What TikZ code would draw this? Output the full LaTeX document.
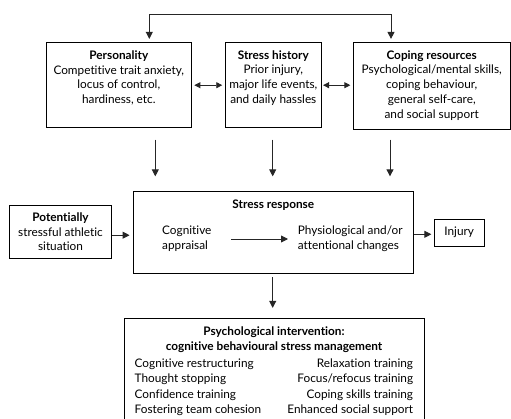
\documentclass[tikz,border=0pt]{standalone}
\usepackage{fontspec}
\setmainfont{Lato}[Ligatures={NoCommon,NoRequired}]
\usetikzlibrary{arrows.meta}
\begin{document}
\begin{tikzpicture}[x=1pt,y=-1pt,
  box/.style={draw=black,line width=0.8pt,inner sep=0pt,align=center},
  txt/.style={inner sep=0pt,align=center,font=\fontsize{11.8}{14.8}\selectfont},
  arr/.style={draw=black!85,line width=0.9pt,-{Triangle[length=7pt,width=7pt]}},
  dbl/.style={draw=black!85,line width=0.9pt,{Triangle[length=6pt,width=6pt]}-{Triangle[length=6pt,width=6pt]}}]
\useasboundingbox (0,0) rectangle (511,419);
\clip (0,0) rectangle (511,419);
% boxes
\node[box,minimum width=145.7pt,minimum height=85pt] (pers) at (118.8,85.2) {};
\node[box,minimum width=96.7pt,minimum height=85pt] (hist) at (273.3,85.2) {};
\node[box,minimum width=156.7pt,minimum height=86.6pt] (cop) at (431.7,86) {};
\node[box,minimum width=280pt,minimum height=82.3pt] (sr) at (273.3,232.2) {};
\node[box,minimum width=102.4pt,minimum height=53pt] (pot) at (60.5,231.8) {};
\node[box,minimum width=49.7pt,minimum height=26.7pt] (inj) at (459.2,232.7) {};
\node[box,minimum width=300pt,minimum height=112pt] (int) at (274,374.3) {};
% texts
\node[txt] (perst) at (118.8,78) {\textbf{Personality}\\Competitive trait anxiety,\\locus of control,\\hardiness, etc.};
\node[txt] (histt) at (273.3,78) {\textbf{Stress history}\\Prior injury,\\major life events,\\and daily hassles};
\node[txt] (copt) at (431.7,85.3) {\textbf{Coping resources}\\Psychological/mental skills,\\coping behaviour,\\general self-care,\\and social support};
\node[txt] (srt) at (273.3,205) {\textbf{Stress response}};
\node[txt,align=left,anchor=west,text width=62pt] (cog) at (162,239) {Cognitive\\appraisal};
\node[txt,align=left,anchor=west] (phys) at (297.7,239) {Physiological and/or\\attentional changes};
\node[txt] (pott) at (60.5,231.7) {\textbf{Potentially}\\stressful athletic\\situation};
\node[txt] (injt) at (459.2,232.7) {Injury};
\node[txt] (intt) at (274,339.5) {\textbf{Psychological intervention:}\\\textbf{cognitive behavioural stress management}};
\node[txt,align=left,anchor=north west,font=\fontsize{11.8}{15.4}\selectfont] (intl) at (134.5,358.5) {Cognitive restructuring\\Thought stopping\\Confidence training\\Fostering team cohesion};
\node[txt,align=right,anchor=north east,font=\fontsize{11.8}{15.4}\selectfont] (intr) at (413.3,358.5) {Relaxation training\\Focus/refocus training\\Coping skills training\\Enhanced social support};
% top connector
\coordinate (tl) at (149.3,14.3);
\coordinate (tr) at (391,14.3);
\draw[dbl,shorten <=3.4pt,shorten >=3.4pt,{Triangle[length=7pt,width=7pt]}-{Triangle[length=7pt,width=7pt]}] (tl |- pers.north) -- (tl) -- (tr) -- (tr |- cop.north);
% double arrows
\draw[dbl,shorten <=2.3pt,shorten >=2.3pt] (pers.east) -- (hist.west);
\draw[dbl,shorten <=1pt,shorten >=2.6pt] (hist.east) -- (hist.east -| cop.west);
% down arrows
\coordinate (xa) at (155.3,0);
\coordinate (xb) at (272.7,0);
\coordinate (xc) at (390,0);
\draw[arr,shorten <=11.6pt,shorten >=14.3pt] (xa |- pers.south) -- (xa |- sr.north);
\draw[arr,shorten <=11.6pt,shorten >=14.3pt] (xb |- hist.south) -- (xb |- sr.north);
\draw[arr,shorten <=10pt,shorten >=14.3pt] (xc |- cop.south) -- (xc |- sr.north);
% middle row
\coordinate (ya) at (0,235.2);
\coordinate (yb) at (0,234.3);
\draw[arr,shorten <=0.3pt,shorten >=3.3pt] (pot.east |- ya) -- (sr.west |- ya);
\draw[arr,shorten >=2.6pt] (sr.east |- yb) -- (inj.west |- yb);
\draw[arr,shorten <=6.7pt,shorten >=9.7pt] (cog.east) -- (phys.west);
% to intervention
\draw[arr,shorten <=3.4pt,shorten >=10pt] (xb |- sr.south) -- (xb |- int.north);
\end{tikzpicture}
\end{document}
